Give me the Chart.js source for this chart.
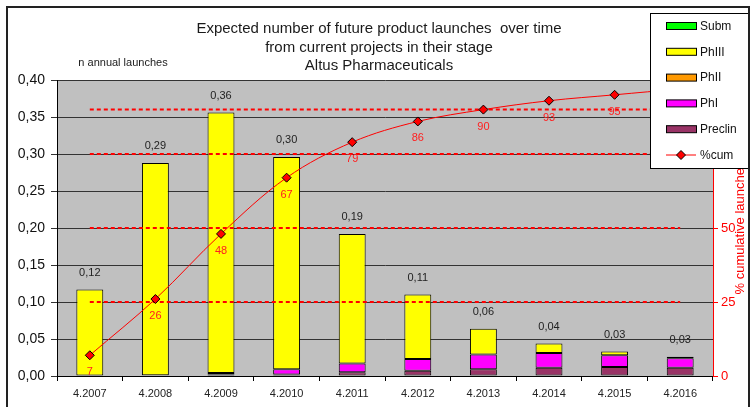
<!DOCTYPE html>
<html>
<head>
<meta charset="utf-8">
<script src="https://cdn.jsdelivr.net/npm/chart.js@4/dist/chart.umd.min.js"></script>
<style>
  html, body { margin: 0; padding: 0; background: #fff; }
  #wrap { width: 755px; height: 407px; }
</style>
</head>
<body>
<div id="wrap"><canvas id="launches"></canvas></div>
<script>
const years = ["4.2007", "4.2008", "4.2009", "4.2010", "4.2011", "4.2012", "4.2013", "4.2014", "4.2015", "4.2016"]

// annual launches per stage (stacked, bottom to top)
const preclin = [0, 0.001, 0.002, 0.002, 0.005, 0.007, 0.009, 0.011, 0.012, 0.011]
const phI     = [0, 0, 0.002, 0.007, 0.012, 0.016, 0.020, 0.020, 0.016, 0.013]
const phII    = [0, 0, 0, 0, 0, 0, 0, 0, 0, 0]
const phIII   = [0.117, 0.287, 0.352, 0.287, 0.175, 0.087, 0.035, 0.013, 0.005, 0.002]
const subm    = [0, 0, 0, 0, 0, 0, 0, 0, 0, 0]

// cumulative % of launches
const cumPct = [7, 26, 48, 67, 79, 86, 90, 93, 95, 97]

// reference levels (% cumulative) drawn as dotted lines
const refLevels = [25, 50, 75, 90]

const leftTicks = [0, 0.05, 0.10, 0.15, 0.20, 0.25, 0.30, 0.35, 0.40]
const rightTicks = [0, 25, 50, 75, 100]

const FONT = '"Liberation Sans", Arial, sans-serif'
Chart.defaults.font.family = FONT

function fmt(v, d) {
    return v.toFixed(d).replace('.', ',')
}

const datasets = [
    { label: "Preclin", data: preclin, backgroundColor: "#993366" },
    { label: "PhI", data: phI, backgroundColor: "#FF00FF" },
    { label: "PhII", data: phII, backgroundColor: "#FF9900" },
    { label: "PhIII", data: phIII, backgroundColor: "#FFFF00" },
    { label: "Subm", data: subm, backgroundColor: "#00FF00" },
].map(d => ({
    ...d,
    type: "bar",
    yAxisID: "y",
    borderColor: "#000",
    borderWidth: 1,
    borderSkipped: false,
    barPercentage: 0.41,
    categoryPercentage: 1,
    order: 2,
    isStage: true,
}))

refLevels.forEach(lv => {
    datasets.push({
        type: "line",
        label: "ref" + lv,
        data: years.map(() => lv),
        yAxisID: "y1",
        borderColor: "#FF0000",
        borderWidth: 2,
        borderDash: [4, 3],
        pointRadius: 0,
        order: 1,
    })
})

datasets.push({
    type: "line",
    label: "%cum",
    data: cumPct,
    yAxisID: "y1",
    borderColor: "#FF0000",
    borderWidth: 1,
    tension: 0.35,
    pointStyle: "rectRot",
    pointRadius: 4.5,
    pointBackgroundColor: "#FF0000",
    pointBorderColor: "#000",
    pointBorderWidth: 1,
    order: 0,
    isCum: true,
})

const decor = {
    id: "decor",
    beforeDraw(chart) {
        const ctx = chart.ctx
        const a = chart.chartArea
        ctx.save()
        ctx.fillStyle = "#fff"
        ctx.fillRect(0, 0, chart.width, chart.height)
        ctx.fillStyle = "#C0C0C0"
        ctx.fillRect(a.left, a.top, a.right - a.left, a.bottom - a.top)
        ctx.restore()
    },
    afterDraw(chart) {
        const ctx = chart.ctx
        const x = chart.scales.x
        const y = chart.scales.y
        const y1 = chart.scales.y1
        ctx.save()

        // title
        ctx.fillStyle = "#1a1a1a"
        ctx.textAlign = "center"
        ctx.textBaseline = "middle"
        ctx.font = "15px " + FONT
        ctx.fillText("Expected number of future product launches  over time", 379, 29)
        ctx.fillText("from current projects in their stage", 379, 47.5)
        ctx.fillText("Altus Pharmaceuticals", 379, 66)

        ctx.font = "11px " + FONT
        ctx.fillText("n annual launches", 123, 63)

        // totals above bars
        ctx.fillStyle = "#222"
        years.forEach((yr, i) => {
            const total = preclin[i] + phI[i] + phII[i] + phIII[i] + subm[i]
            const t = Math.round(total * 1000) / 1000
            ctx.fillText(fmt(t, 2), x.getPixelForValue(i), y.getPixelForValue(t) - 16.5)
        })

        // cumulative labels below points
        ctx.fillStyle = "#FF2020"
        cumPct.forEach((v, i) => {
            ctx.fillText(String(v), x.getPixelForValue(i), y1.getPixelForValue(v) + 17)
        })

        // right axis title (reads bottom to top)
        ctx.save()
        ctx.translate(740, (chart.chartArea.top + chart.chartArea.bottom) / 2)
        ctx.rotate(-Math.PI / 2)
        ctx.font = "13px " + FONT
        ctx.fillStyle = "#FF0000"
        ctx.fillText("% cumulative launches", 0, 0)
        ctx.restore()

        // legend box
        const lx = 650, ly = 13, lw = 99, lh = 155
        ctx.fillStyle = "#fff"
        ctx.fillRect(lx, ly, lw, lh)
        ctx.strokeStyle = "#000"
        ctx.lineWidth = 1
        ctx.strokeRect(lx + 0.5, ly + 0.5, lw, lh)

        const stages = chart.data.datasets.filter(d => d.isStage).slice().reverse()
        const cum = chart.data.datasets.find(d => d.isCum)
        const items = stages.concat([cum])
        ctx.textAlign = "left"
        ctx.font = "12px " + FONT
        items.forEach((d, k) => {
            const cy = 26 + k * 25.8
            if (d.isCum) {
                ctx.strokeStyle = "#FF0000"
                ctx.beginPath()
                ctx.moveTo(666, cy)
                ctx.lineTo(696, cy)
                ctx.stroke()
                ctx.beginPath()
                ctx.moveTo(681, cy - 4.5)
                ctx.lineTo(685.5, cy)
                ctx.lineTo(681, cy + 4.5)
                ctx.lineTo(676.5, cy)
                ctx.closePath()
                ctx.fillStyle = "#FF0000"
                ctx.fill()
                ctx.strokeStyle = "#000"
                ctx.stroke()
            } else {
                ctx.fillStyle = d.backgroundColor
                ctx.fillRect(666, cy - 3.5, 30, 7)
                ctx.strokeStyle = "#000"
                ctx.strokeRect(666.5, cy - 3.5, 30, 7)
            }
            ctx.fillStyle = "#111"
            ctx.fillText(d.label, 700, cy + 0.5)
        })

        // outer chart border
        ctx.strokeStyle = "#222"
        ctx.lineWidth = 2
        ctx.strokeRect(7, 7, 742, 420)
        ctx.restore()
    }
}

new Chart(document.getElementById("launches"), {
    data: { labels: years, datasets: datasets },
    options: {
        responsive: true,
        maintainAspectRatio: false,
        animation: false,
        layout: { padding: { top: 80, left: 0, right: 0, bottom: 0 } },
        plugins: {
            legend: { display: false },
            title: { display: false },
            tooltip: { enabled: false },
        },
        scales: {
            x: {
                stacked: true,
                afterFit: s => { s.height = 31 },
                grid: { offset: true, drawOnChartArea: false, tickLength: 5, color: "#000" },
                border: { color: "#000" },
                ticks: { color: "#222", font: { size: 11 }, padding: 6, maxRotation: 0 },
            },
            y: {
                stacked: true,
                position: "left",
                min: 0,
                max: 0.4,
                afterFit: s => { s.width = 57 },
                afterBuildTicks: s => { s.ticks = leftTicks.map(v => ({ value: v })) },
                grid: { color: "#333", tickLength: 6 },
                border: { color: "#000" },
                ticks: { color: "#111", font: { size: 14 }, padding: 6, callback: v => fmt(v, 2) },
            },
            y1: {
                position: "right",
                min: 0,
                max: 100,
                afterFit: s => { s.width = 42 },
                afterBuildTicks: s => { s.ticks = rightTicks.map(v => ({ value: v })) },
                grid: { drawOnChartArea: false, color: "#FF0000", tickLength: 5 },
                border: { color: "#FF0000" },
                ticks: { color: "#FF0000", font: { size: 13 }, padding: 3 },
            },
        },
    },
    plugins: [decor],
})
</script>
</body>
</html>
